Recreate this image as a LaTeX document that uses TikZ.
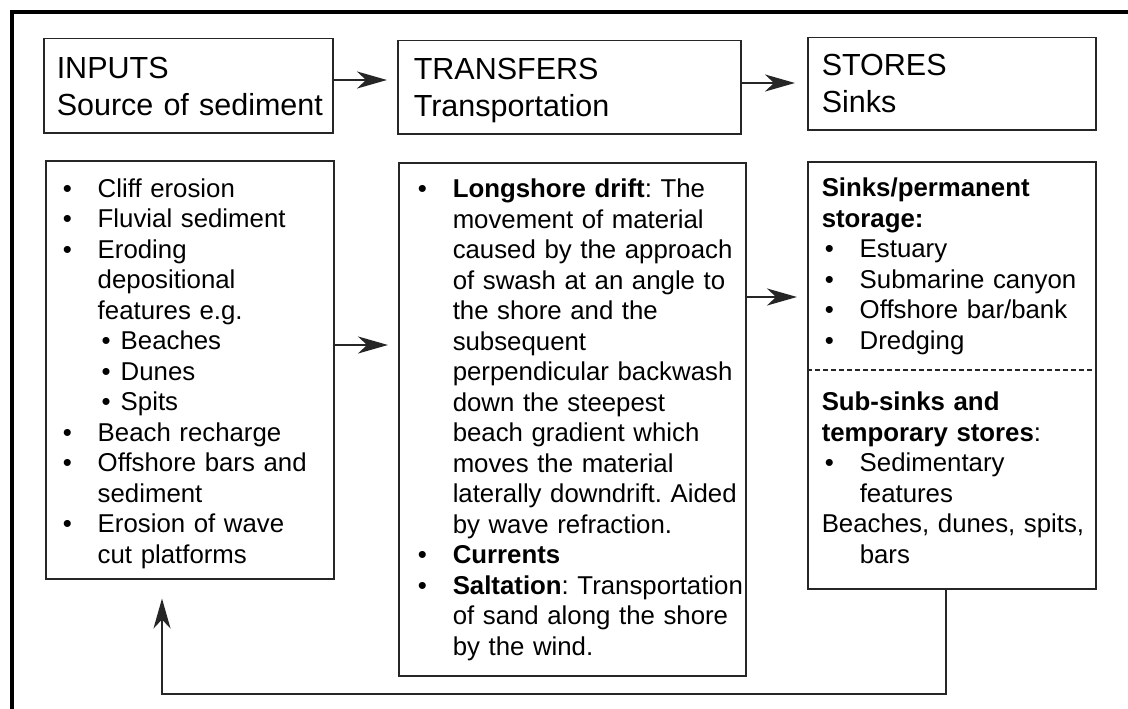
\documentclass[tikz,border=0pt]{standalone}
\usepackage{fontspec}
\setmainfont{Liberation Sans}
\usetikzlibrary{arrows.meta}

% bullet helpers for the lists
\newcommand{\bitem}{\makebox[35pt][l]{\textbullet}}
\newcommand{\bcont}{\hspace*{35pt}}
\newcommand{\bsub}{\hspace*{4pt}\makebox[19pt][l]{\textbullet}}

\begin{document}
\begin{tikzpicture}[x=1pt, y=-1pt,
    headbox/.style={draw=black!85, line width=1.5pt, anchor=north west, align=left,
        inner xsep=13pt, inner ysep=0pt, font=\fontsize{30.5}{37}\selectfont\frenchspacing},
    listbox/.style={draw=black!85, line width=1.5pt, anchor=north west, align=left,
        inner xsep=17pt, inner ysep=0pt, font=\fontsize{25.8}{30.5}\selectfont\frenchspacing},
    flow/.style={-{Stealth[length=30pt, width=17pt, inset=9pt]}, line width=2pt, black!85}]
    \useasboundingbox (0,0) rectangle (1128,709);

    % Outer frame (only top and left edges show)
    \draw[line width=4pt] (1128,12) -- (12,12) -- (12,709);

    % Header boxes
    \node[headbox, text width=263pt, text height=40pt, text depth=54pt] (inputs) at (43,38)
        {\begin{tabular}[t]{@{}l@{}}INPUTS\\Source of sediment\end{tabular}};
    \node[headbox, inner xsep=16pt, text width=311pt, text height=39pt, text depth=54pt] (transfers) at (397,40)
        {\begin{tabular}[t]{@{}l@{}}TRANSFERS\\Transportation\end{tabular}};
    \node[headbox, inner xsep=14pt, text width=260pt, text height=38pt, text depth=54pt] (stores) at (807,37)
        {\begin{tabular}[t]{@{}l@{}}STORES\\Sinks\end{tabular}};

    % Inputs list
    \node[listbox, text width=254pt, text height=36.6pt, text depth=381.4pt] (inlist) at (45,160)
        {\begin{tabular}[t]{@{}l@{}}
        \bitem Cliff erosion\\
        \bitem Fluvial sediment\\
        \bitem Eroding\\
        \bcont depositional\\
        \bcont features e.g.\\
        \bcont\bsub Beaches\\
        \bcont\bsub Dunes\\
        \bcont\bsub Spits\\
        \bitem Beach recharge\\
        \bitem Offshore bars and\\
        \bcont sediment\\
        \bitem Erosion of wave\\
        \bcont cut platforms
        \end{tabular}};

    % Transfers list
    \node[listbox, inner xsep=19pt, text width=309pt, text height=35pt, text depth=478pt] (trlist) at (398,162)
        {\begin{tabular}[t]{@{}l@{}}
        \bitem\textbf{Longshore drift}: The\\
        \bcont movement of material\\
        \bcont caused by the approach\\
        \bcont of swash at an angle to\\
        \bcont the shore and the\\
        \bcont subsequent\\
        \bcont perpendicular backwash\\
        \bcont down the steepest\\
        \bcont beach gradient which\\
        \bcont moves the material\\
        \bcont laterally downdrift. Aided\\
        \bcont by wave refraction.\\
        \bitem\textbf{Currents}\\
        \bitem\textbf{Saltation}: Transportation\\
        \bcont of sand along the shore\\
        \bcont by the wind.
        \end{tabular}};

    % Stores list
    \node[listbox, inner xsep=14pt, text width=260pt, text height=35pt, text depth=392pt] (storelist) at (807,161)
        {\begin{tabular}[t]{@{}l@{}}
        \textbf{Sinks/permanent}\\
        \textbf{storage:}\\
        \hspace*{3pt}\bitem Estuary\\
        \hspace*{3pt}\bitem Submarine canyon\\
        \hspace*{3pt}\bitem Offshore bar/bank\\
        \hspace*{3pt}\bitem Dredging\\[31pt]
        \textbf{Sub-sinks and}\\
        \textbf{temporary stores}:\\
        \hspace*{3pt}\bitem Sedimentary\\
        \hspace*{3pt}\bcont features\\
        Beaches, dunes, spits,\\
        \hspace*{3pt}\bcont bars
        \end{tabular}};
    % divider between permanent and temporary stores
    \draw[black!85, line width=1.2pt, dash pattern=on 5pt off 3pt]
        ([yshift=-209pt]storelist.north west) -- ([yshift=-209pt]storelist.north east);

    % Flow arrows
    \draw[flow, shorten >=10pt] ([yshift=-42pt]inputs.north east) coordinate (a1) -- (a1 -| transfers.west);
    \draw[flow, shorten >=12pt] ([yshift=-43pt]transfers.north east) coordinate (a2) -- (a2 -| stores.west);
    \draw[flow, shorten >=10pt] ([yshift=-185pt]inlist.north east) coordinate (a3) -- (a3 -| trlist.west);
    \draw[flow, shorten >=10pt] ([yshift=-135pt]trlist.north east) coordinate (a4) -- (a4 -| storelist.west);

    % Feedback from stores back to inputs
    \draw[flow, shorten >=19pt] ([xshift=139pt]storelist.south west) -- ++(0,104)
        -| ([xshift=117pt]inlist.south west);
\end{tikzpicture}
\end{document}
